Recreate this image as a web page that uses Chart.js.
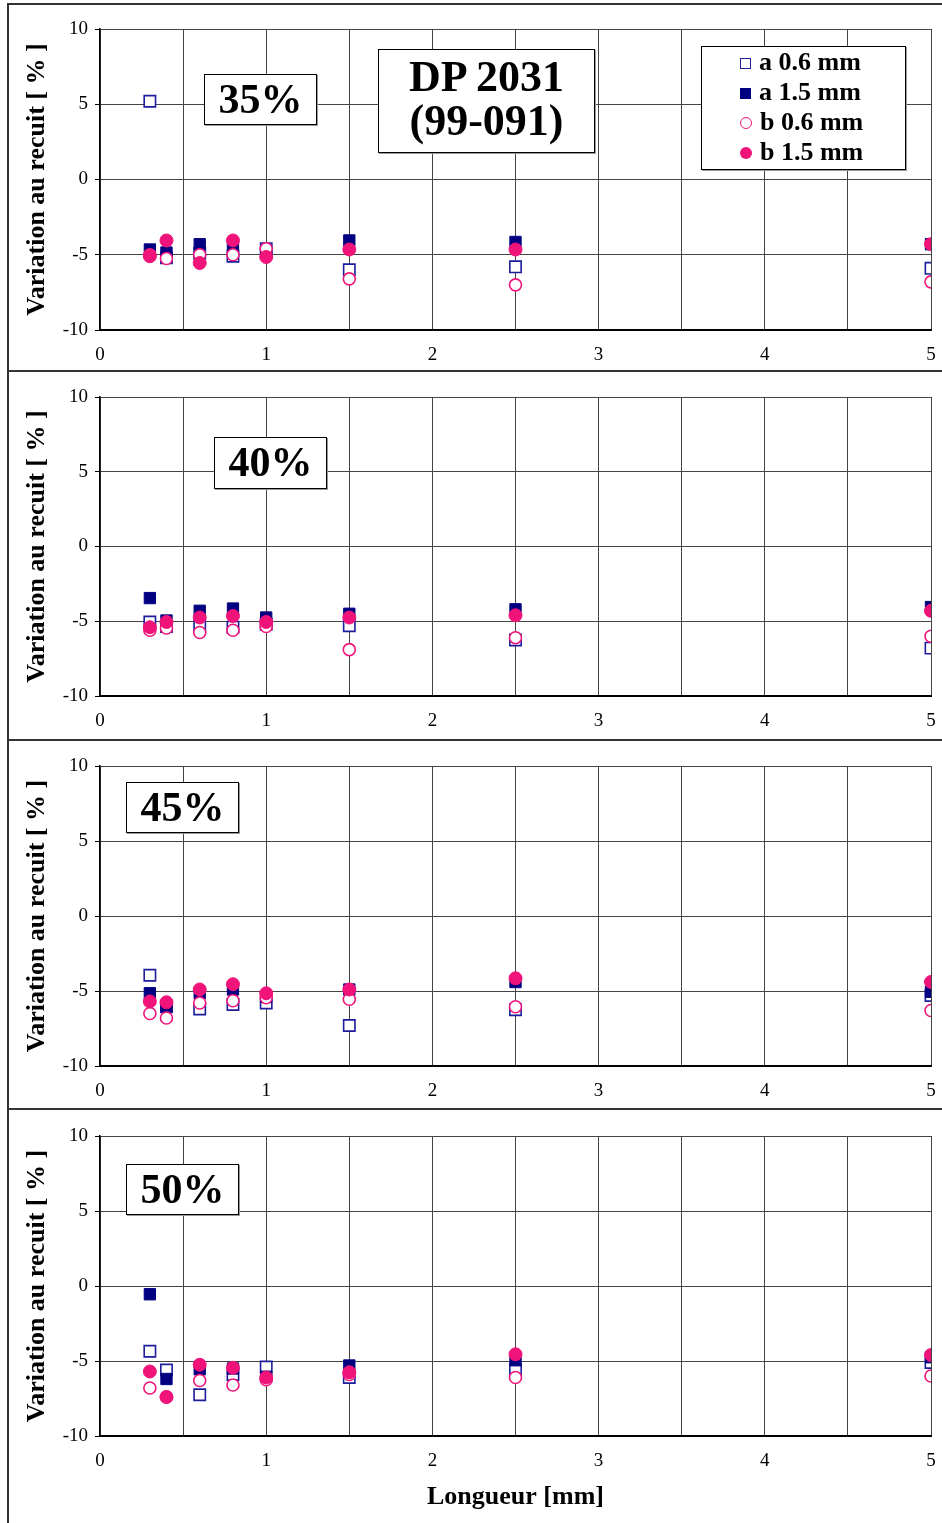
<!DOCTYPE html>
<html>
<head>
<meta charset="utf-8">
<script src="https://cdn.jsdelivr.net/npm/chart.js@4"></script>
<style>
  body { margin: 0; background: #fff; width: 942px; height: 1523px; position: relative; overflow: hidden; font-family: 'Liberation Serif', serif; }
  canvas { position: absolute; left: 0; }
  .rule { position: absolute; background: #333; }
  .box { position: absolute; background: #fff; border: 1px solid #000; box-shadow: 1px 1px 0 #999; font-weight: bold; color: #000; text-align: center; box-sizing: border-box; }
  .pct { font-size: 42px; line-height: 48px; }
  .title { font-size: 44px; line-height: 44px; padding-top: 5px; }
  .legend { text-align: left; padding: 0; }
  .legend div { position: absolute; left: 38px; font-size: 26px; line-height: 30px; white-space: nowrap; }
  .legend span { display: inline-block; box-sizing: border-box; margin-right: 8px; vertical-align: 1px; }
</style>
</head>
<body>
<script>
// lengths (mm) where the samples were measured
const longueurs = [0.3, 0.4, 0.6, 0.8, 1.0, 1.5, 2.5, 5];

// 35 %
const a06_35 = [5.2, -5.2, -4.9, -5.1, -4.6, -6.0, -5.8, -5.9];
const a15_35 = [-4.65, -4.85, -4.3, -4.35, -4.9, -4.05, -4.15, -4.3];
const b06_35 = [-5.0, -5.25, -5.0, -5.0, -4.6, -6.6, -7.0, -6.8];
const b15_35 = [-5.1, -4.05, -5.55, -4.05, -5.15, -4.65, -4.65, -4.3];

// 40 %
const a06_40 = [-5.05, -5.35, -5.3, -5.4, -5.2, -5.3, -6.25, -6.8];
const a15_40 = [-3.45, -4.95, -4.3, -4.15, -4.75, -4.5, -4.2, -4.05];
const b06_40 = [-5.6, -5.45, -5.75, -5.6, -5.35, -6.9, -6.1, -6.0];
const b15_40 = [-5.4, -5.05, -4.75, -4.65, -5.05, -4.75, -4.6, -4.3];

// 45 %
const a06_45 = [-3.95, -6.05, -6.2, -5.9, -5.8, -7.3, -6.25, -5.3];
const a15_45 = [-5.15, -6.0, -5.15, -4.9, -5.4, -4.9, -4.4, -5.05];
const b06_45 = [-6.5, -6.8, -5.8, -5.65, -5.45, -5.55, -6.05, -6.3];
const b15_45 = [-5.7, -5.75, -4.9, -4.55, -5.15, -4.9, -4.15, -4.4];

// 50 %
const a06_50 = [-4.35, -5.6, -7.25, -5.9, -5.4, -6.1, -5.55, -5.1];
const a15_50 = [-0.55, -6.2, -5.55, -5.5, -6.05, -5.3, -4.95, -4.75];
const b06_50 = [-6.8, -7.4, -6.3, -6.6, -6.25, -5.9, -6.1, -6.0];
const b15_50 = [-5.7, -7.4, -5.25, -5.45, -6.1, -5.75, -4.55, -4.6];

const seriesNames = ['a 0.6 mm', 'a 1.5 mm', 'b 0.6 mm', 'b 1.5 mm'];
const xTicks = [0, 1, 2, 3, 4, 5];
const yTicks = [-10, -5, 0, 5, 10];

const NAVY = '#000080';
const PINK = '#f0147a';
const styles = [
  { pointStyle: 'rect', pointRadius: 8, backgroundColor: '#fff', borderColor: '#1c1c9c', borderWidth: 1.6, order: 4 },
  { pointStyle: 'rect', pointRadius: 8, backgroundColor: NAVY, borderColor: NAVY, borderWidth: 1, order: 3 },
  { pointStyle: 'circle', pointRadius: 6, backgroundColor: '#fff', borderColor: PINK, borderWidth: 1.6, order: 2 },
  { pointStyle: 'circle', pointRadius: 6.5, backgroundColor: PINK, borderColor: PINK, borderWidth: 1, order: 1 }
];

// canvas top/height, chart area top/bottom, label box
const panels = [
  { name: '35%', series: [a06_35, a15_35, b06_35, b15_35], top: 5, h: 366, ct: 29, cb: 330, box: [204, 74, 113, 51] },
  { name: '40%', series: [a06_40, a15_40, b06_40, b15_40], top: 372, h: 368, ct: 397, cb: 696, box: [214, 437, 113, 52] },
  { name: '45%', series: [a06_45, a15_45, b06_45, b15_45], top: 741, h: 368, ct: 766, cb: 1066, box: [126, 782, 113, 51] },
  { name: '50%', series: [a06_50, a15_50, b06_50, b15_50], top: 1110, h: 413, ct: 1136, cb: 1436, box: [126, 1164, 113, 51] }
];

function addEl(cls, css, html) {
  const d = document.createElement('div');
  d.className = cls;
  Object.assign(d.style, css);
  if (html) d.innerHTML = html;
  document.body.appendChild(d);
  return d;
}

panels.forEach((p, idx) => {
  const last = idx === panels.length - 1;
  const cv = document.createElement('canvas');
  cv.width = 942; cv.height = p.h;
  cv.style.top = p.top + 'px';
  cv.style.width = '942px'; cv.style.height = p.h + 'px';
  document.body.appendChild(cv);

  const datasets = p.series.map((vals, i) => Object.assign({
    label: seriesNames[i],
    data: longueurs.map((x, j) => ({ x: x, y: vals[j] })),
    showLine: false
  }, styles[i]));

  new Chart(cv, {
    type: 'scatter',
    data: { datasets: datasets },
    options: {
      responsive: false,
      animation: false,
      layout: { padding: { top: p.ct - p.top, right: 11, bottom: 0, left: 0 } },
      plugins: { legend: { display: false }, tooltip: { enabled: false } },
      scales: {
        x: {
          type: 'linear', min: 0, max: 5,
          afterFit: s => { s.height = p.top + p.h - p.cb; },
          afterBuildTicks: s => { s.ticks = []; for (let k = 0; k <= 10; k++) s.ticks.push({ value: k / 2 }); },
          ticks: {
            autoSkip: false, maxRotation: 0, padding: 6, color: '#000',
            font: { family: 'Liberation Serif', size: 19 },
            callback: v => xTicks.includes(v) ? String(v) : ''
          },
          // long transparent ticks push the labels down without widening the right padding
          grid: { color: '#444', lineWidth: 1, tickLength: 8, tickColor: 'rgba(0,0,0,0)' },
          border: { color: '#000', width: 2 },
          title: {
            display: last, text: 'Longueur [mm]', color: '#000',
            font: { family: 'Liberation Serif', size: 26, weight: 'bold' },
            padding: { top: 0, bottom: 10 }
          }
        },
        y: {
          type: 'linear', min: -10, max: 10,
          afterFit: s => { s.width = 100; },
          afterBuildTicks: s => { s.ticks = yTicks.map(v => ({ value: v })); },
          ticks: { padding: 7, color: '#000', font: { family: 'Liberation Serif', size: 19 } },
          grid: { color: '#444', lineWidth: 1, tickLength: 5, tickColor: '#000' },
          border: { color: '#000', width: 1.5 },
          title: {
            display: true, text: 'Variation au recuit [ % ]', color: '#000',
            font: { family: 'Liberation Serif', size: 26, weight: 'bold' },
            padding: { top: 22, bottom: 0 }
          }
        }
      }
    }
  });

  // percentage label
  const b = p.box;
  addEl('box pct', { left: b[0] + 'px', top: b[1] + 'px', width: b[2] + 'px', height: b[3] + 'px' }, p.name);

  // frame line above each panel
  addEl('rule', { left: '8px', top: (p.top - 2) + 'px', width: '934px', height: '2px' });
});

// left frame line
addEl('rule', { left: '7px', top: '3px', width: '2px', height: '1520px' });

// title box
addEl('box title', { left: '378px', top: '49px', width: '217px', height: '104px' }, 'DP 2031<br>(99-091)');

// legend built from the series
const lg = addEl('box legend', { left: '701px', top: '46px', width: '205px', height: '124px' });
seriesNames.forEach((n, i) => {
  const st = styles[i];
  const row = document.createElement('div');
  row.style.top = (0 + i * 30) + 'px';
  const mk = document.createElement('span');
  const sz = st.pointStyle === 'rect' ? 11 : 12;
  Object.assign(mk.style, {
    width: sz + 'px', height: sz + 'px',
    background: st.backgroundColor,
    border: (st.backgroundColor === '#fff' ? 1.6 : 0) + 'px solid ' + st.borderColor,
    borderRadius: st.pointStyle === 'circle' ? '50%' : '0'
  });
  row.appendChild(mk);
  row.appendChild(document.createTextNode(n));
  lg.appendChild(row);
});
</script>
</body>
</html>
